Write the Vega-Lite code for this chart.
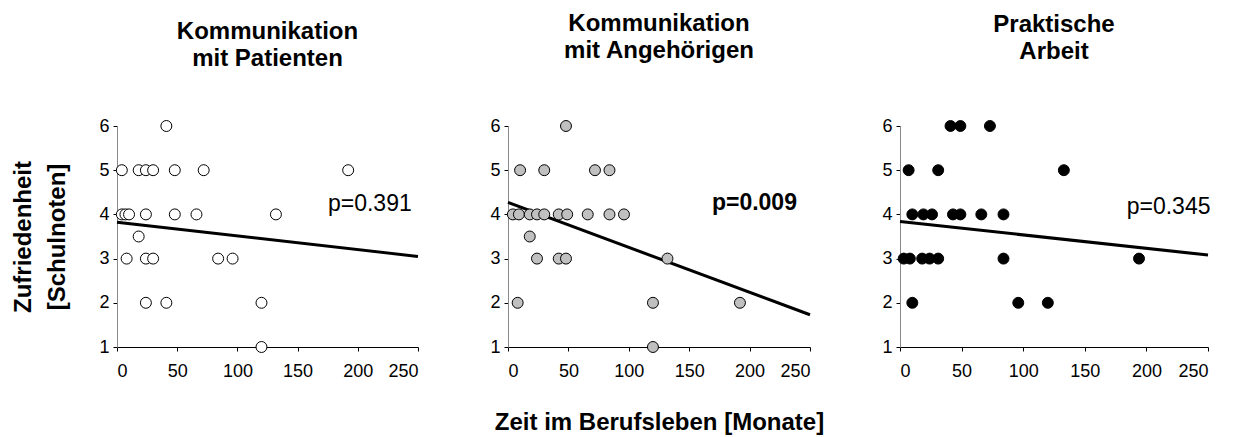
{
  "$schema": "https://vega.github.io/schema/vega-lite/v6.json",
  "padding": {"left": 11, "top": 12, "right": 5, "bottom": 5},
  "bounds": "flush",
  "spacing": 90,
  "config": {
    "font": "Liberation Sans",
    "view": {"stroke": null},
    "axis": {"grid": false, "labelFontSize": 18, "labelColor": "#000", "labelFont": "Liberation Sans", "domainColor": "#000", "tickColor": "#000", "titleFont": "Liberation Sans", "titleFontSize": 24, "titleFontWeight": "bold", "titleColor": "#000"},
    "axisX": {"tickSize": 4, "labelPadding": 11},
    "axisY": {"tickSize": 4, "labelPadding": 4, "domainColor": "#888"},
    "title": {"font": "Liberation Sans", "fontSize": 24, "fontWeight": "bold", "color": "#000", "anchor": "middle", "frame": "group", "lineHeight": 27}
  },
  "datasets": {
    "pts": [
      {"panel": "A", "zeit": 41, "note": 6}, {"panel": "A", "zeit": 4, "note": 5}, {"panel": "A", "zeit": 18, "note": 5}, {"panel": "A", "zeit": 24, "note": 5}, {"panel": "A", "zeit": 30, "note": 5}, {"panel": "A", "zeit": 48, "note": 5}, {"panel": "A", "zeit": 72, "note": 5}, {"panel": "A", "zeit": 192, "note": 5},
      {"panel": "A", "zeit": 4, "note": 4}, {"panel": "A", "zeit": 7, "note": 4}, {"panel": "A", "zeit": 10, "note": 4}, {"panel": "A", "zeit": 24, "note": 4}, {"panel": "A", "zeit": 48, "note": 4}, {"panel": "A", "zeit": 66, "note": 4}, {"panel": "A", "zeit": 132, "note": 4},
      {"panel": "A", "zeit": 18, "note": 3.5}, {"panel": "A", "zeit": 8, "note": 3}, {"panel": "A", "zeit": 24, "note": 3}, {"panel": "A", "zeit": 30, "note": 3}, {"panel": "A", "zeit": 84, "note": 3}, {"panel": "A", "zeit": 96, "note": 3},
      {"panel": "A", "zeit": 24, "note": 2}, {"panel": "A", "zeit": 41, "note": 2}, {"panel": "A", "zeit": 120, "note": 2}, {"panel": "A", "zeit": 120, "note": 1},
      {"panel": "B", "zeit": 48, "note": 6}, {"panel": "B", "zeit": 10, "note": 5}, {"panel": "B", "zeit": 30, "note": 5}, {"panel": "B", "zeit": 72, "note": 5}, {"panel": "B", "zeit": 84, "note": 5},
      {"panel": "B", "zeit": 4, "note": 4}, {"panel": "B", "zeit": 9, "note": 4}, {"panel": "B", "zeit": 18, "note": 4}, {"panel": "B", "zeit": 24, "note": 4}, {"panel": "B", "zeit": 30, "note": 4}, {"panel": "B", "zeit": 42, "note": 4}, {"panel": "B", "zeit": 49, "note": 4}, {"panel": "B", "zeit": 66, "note": 4}, {"panel": "B", "zeit": 84, "note": 4}, {"panel": "B", "zeit": 96, "note": 4},
      {"panel": "B", "zeit": 18, "note": 3.5}, {"panel": "B", "zeit": 24, "note": 3}, {"panel": "B", "zeit": 42, "note": 3}, {"panel": "B", "zeit": 48, "note": 3}, {"panel": "B", "zeit": 132, "note": 3},
      {"panel": "B", "zeit": 8, "note": 2}, {"panel": "B", "zeit": 120, "note": 2}, {"panel": "B", "zeit": 192, "note": 2}, {"panel": "B", "zeit": 120, "note": 1},
      {"panel": "C", "zeit": 41, "note": 6}, {"panel": "C", "zeit": 49, "note": 6}, {"panel": "C", "zeit": 73, "note": 6}, {"panel": "C", "zeit": 7, "note": 5}, {"panel": "C", "zeit": 31, "note": 5}, {"panel": "C", "zeit": 133, "note": 5},
      {"panel": "C", "zeit": 10, "note": 4}, {"panel": "C", "zeit": 19, "note": 4}, {"panel": "C", "zeit": 26, "note": 4}, {"panel": "C", "zeit": 43, "note": 4}, {"panel": "C", "zeit": 49, "note": 4}, {"panel": "C", "zeit": 66, "note": 4}, {"panel": "C", "zeit": 84, "note": 4},
      {"panel": "C", "zeit": 3, "note": 3}, {"panel": "C", "zeit": 8, "note": 3}, {"panel": "C", "zeit": 18, "note": 3}, {"panel": "C", "zeit": 24, "note": 3}, {"panel": "C", "zeit": 31, "note": 3}, {"panel": "C", "zeit": 84, "note": 3}, {"panel": "C", "zeit": 194, "note": 3},
      {"panel": "C", "zeit": 10, "note": 2}, {"panel": "C", "zeit": 96, "note": 2}, {"panel": "C", "zeit": 120, "note": 2}
    ],
    "fit": [
      {"panel": "A", "zeit": 0, "note": 3.82}, {"panel": "A", "zeit": 250, "note": 3.05},
      {"panel": "B", "zeit": 0, "note": 4.27}, {"panel": "B", "zeit": 250, "note": 1.73},
      {"panel": "C", "zeit": 0, "note": 3.84}, {"panel": "C", "zeit": 250, "note": 3.08}
    ],
    "lab": [
      {"panel": "A", "zeit": 210, "note": 4.07, "text": "p=0.391"},
      {"panel": "B", "zeit": 204, "note": 4.1, "text": "p=0.009"},
      {"panel": "C", "zeit": 218, "note": 4.0, "text": "p=0.345"}
    ]
  },
  "hconcat": [
    {
      "width": 301, "height": 221,
      "title": {"text": ["Kommunikation", "mit Patienten"], "offset": 46},
      "layer": [
        {
          "data": {"name": "fit"}, "transform": [{"filter": "datum.panel == 'A'"}],
          "mark": {"type": "line", "color": "#000", "strokeWidth": 3},
          "encoding": {
            "x": {"field": "zeit", "type": "quantitative", "scale": {"domain": [0, 250], "nice": false}, "axis": {"values": [0, 50, 100, 150, 200, 250], "title": null}},
            "y": {"field": "note", "type": "quantitative", "scale": {"domain": [1, 6], "nice": false, "zero": false}, "axis": {"values": [1, 2, 3, 4, 5, 6], "title": ["Zufriedenheit", "[Schulnoten]"], "titlePadding": 29, "titleLineHeight": 34}}
          }
        },
        {
          "data": {"name": "pts"}, "transform": [{"filter": "datum.panel == 'A'"}],
          "mark": {"type": "circle", "fill": "#fff", "stroke": "#000", "strokeWidth": 1, "size": 120, "opacity": 1},
          "encoding": {"x": {"field": "zeit", "type": "quantitative"}, "y": {"field": "note", "type": "quantitative"}}
        },
        {
          "data": {"name": "lab"}, "transform": [{"filter": "datum.panel == 'A'"}],
          "mark": {"type": "text", "fontSize": 23, "color": "#000", "align": "center", "baseline": "alphabetic"},
          "encoding": {"x": {"field": "zeit", "type": "quantitative"}, "y": {"field": "note", "type": "quantitative"}, "text": {"field": "text"}}
        }
      ]
    },
    {
      "width": 302, "height": 221,
      "title": {"text": ["Kommunikation", "mit Angehörigen"], "offset": 54},
      "layer": [
        {
          "data": {"name": "fit"}, "transform": [{"filter": "datum.panel == 'B'"}],
          "mark": {"type": "line", "color": "#000", "strokeWidth": 3},
          "encoding": {
            "x": {"field": "zeit", "type": "quantitative", "scale": {"domain": [0, 250], "nice": false}, "axis": {"values": [0, 50, 100, 150, 200, 250], "title": "Zeit im Berufsleben [Monate]", "titlePadding": 30}},
            "y": {"field": "note", "type": "quantitative", "scale": {"domain": [1, 6], "nice": false, "zero": false}, "axis": {"values": [1, 2, 3, 4, 5, 6], "title": null}}
          }
        },
        {
          "data": {"name": "pts"}, "transform": [{"filter": "datum.panel == 'B'"}],
          "mark": {"type": "circle", "fill": "#c0c0c0", "stroke": "#000", "strokeWidth": 1, "size": 120, "opacity": 1},
          "encoding": {"x": {"field": "zeit", "type": "quantitative"}, "y": {"field": "note", "type": "quantitative"}}
        },
        {
          "data": {"name": "lab"}, "transform": [{"filter": "datum.panel == 'B'"}],
          "mark": {"type": "text", "fontSize": 23, "fontWeight": "bold", "color": "#000", "align": "center", "baseline": "alphabetic"},
          "encoding": {"x": {"field": "zeit", "type": "quantitative"}, "y": {"field": "note", "type": "quantitative"}, "text": {"field": "text"}}
        }
      ]
    },
    {
      "width": 308, "height": 221,
      "title": {"text": ["Praktische", "Arbeit"], "offset": 53},
      "layer": [
        {
          "data": {"name": "fit"}, "transform": [{"filter": "datum.panel == 'C'"}],
          "mark": {"type": "line", "color": "#000", "strokeWidth": 3},
          "encoding": {
            "x": {"field": "zeit", "type": "quantitative", "scale": {"domain": [0, 250], "nice": false}, "axis": {"values": [0, 50, 100, 150, 200, 250], "title": null}},
            "y": {"field": "note", "type": "quantitative", "scale": {"domain": [1, 6], "nice": false, "zero": false}, "axis": {"values": [1, 2, 3, 4, 5, 6], "title": null}}
          }
        },
        {
          "data": {"name": "pts"}, "transform": [{"filter": "datum.panel == 'C'"}],
          "mark": {"type": "circle", "fill": "#000", "stroke": "#000", "strokeWidth": 1, "size": 120, "opacity": 1},
          "encoding": {"x": {"field": "zeit", "type": "quantitative"}, "y": {"field": "note", "type": "quantitative"}}
        },
        {
          "data": {"name": "lab"}, "transform": [{"filter": "datum.panel == 'C'"}],
          "mark": {"type": "text", "fontSize": 23, "color": "#000", "align": "center", "baseline": "alphabetic"},
          "encoding": {"x": {"field": "zeit", "type": "quantitative"}, "y": {"field": "note", "type": "quantitative"}, "text": {"field": "text"}}
        }
      ]
    }
  ]
}
